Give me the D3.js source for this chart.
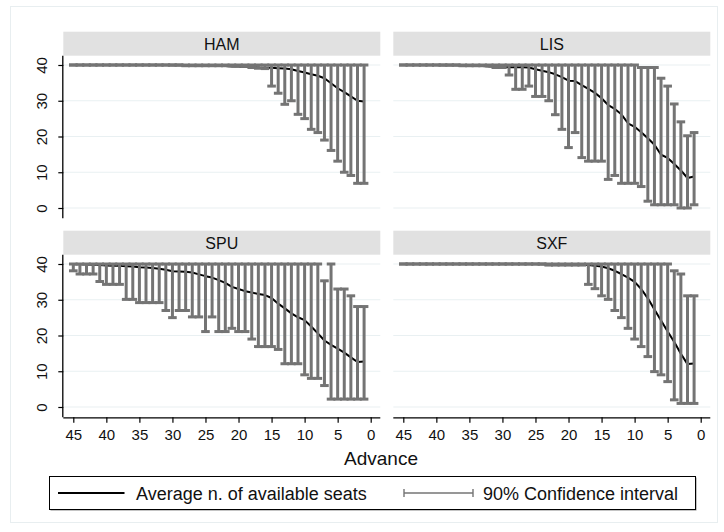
<!DOCTYPE html>
<html>
<head>
<meta charset="utf-8">
<script src="https://cdn.jsdelivr.net/npm/d3@7"></script>
<style>
  html, body { margin: 0; padding: 0; background: #ffffff; }
  svg { display: block; font-family: "Liberation Sans", Arial, sans-serif; }
</style>
</head>
<body>
<svg id="chart" width="724" height="532"></svg>
<script>
// Days in advance of departure (45 down to 1)
const advance = d3.range(45, 0, -1);

const airports = ["HAM", "LIS", "SPU", "SXF"];

// Average number of available seats, ordered by advance 45 -> 1
const hamMean = [40,40,40,40,40,40,40,40,40,40,40,40,40,40,40,
  39.95,39.9,39.9,39.85,39.8,39.8,39.75,39.7,39.7,39.6,39.6,39.5,39.4,39.3,39.25,
  39.2,39.1,39.0,38.8,38.3,37.9,37.4,37.0,36.3,34.9,33.5,32.4,31.2,30.0,29.8];
const hamLower = [40,40,40,40,40,40,40,40,40,40,40,40,40,40,40,40,40,
  39.8,39.8,39.8,39.8,39.8,39.8,39.8,39.8,39.8,39.6,39.3,39.1,39.0,
  34.1,32.1,29.0,30.0,26.2,25.0,22.0,21.1,19.0,16.1,13.1,10.0,9.1,6.9,6.9];
const hamUpper = [40,40,40,40,40,40,40,40,40,40,40,40,40,40,40,
  40,40,40,40,40,40,40,40,40,40,40,40,40,40,40,
  40,40,40,40,40,40,40,40,40,40,40,40,40,40,40];

const lisMean = [40,40,40,40,40,40,39.95,39.9,39.9,39.85,39.8,39.75,39.7,39.6,39.6,
  39.5,39.4,39.4,39.4,39.3,38.8,38.4,38.0,37.4,36.6,35.6,35.5,34.4,33.3,32.2,
  30.7,28.8,27.7,26.2,23.7,22.7,21.2,19.5,17.7,14.9,14.0,12.3,10.5,8.4,8.8];
const lisLower = [40,40,40,40,40,40,40,40,40,39.8,39.8,39.8,39.8,39.8,39.3,
  39.3,37.2,33.2,33.2,34.1,31.2,31.2,30.0,26.1,22.0,16.9,21.1,14.1,13.1,13.1,
  13.1,8.0,9.1,6.9,6.9,6.9,6.0,1.9,0.9,0.9,0.9,0.9,0.0,0.0,0.9];
const lisUpper = [40,40,40,40,40,40,40,40,40,40,40,40,40,40,40,
  40,40,40,40,40,40,40,40,40,40,40,40,40,40,40,
  40,40,40,40,40,40,39.3,39.3,39.3,36.3,34.1,29.1,24.1,20.2,21.1];

const spuMean = [39.9,39.9,39.85,39.8,39.7,39.6,39.5,39.5,39.4,39.3,39.1,39.0,38.9,38.7,38.4,
  38.0,37.9,37.8,37.6,37.1,36.6,36.2,35.5,34.7,33.6,33.0,32.4,32.0,31.6,31.3,
  30.5,28.9,27.6,26.2,25.1,24.3,22.5,20.6,18.6,17.4,16.3,15.2,13.9,12.6,12.7];
const spuLower = [38.1,37.2,37.2,37.2,35.1,34.3,34.3,34.3,30.1,30.1,29.2,29.2,29.2,29.2,27.0,
  25.0,27.0,27.0,25.2,25.2,21.1,25.2,21.1,21.1,22.0,21.1,21.1,19.0,16.9,16.9,
  16.9,16.1,12.1,12.1,12.1,9.0,8.0,8.0,6.0,2.2,2.2,2.2,2.2,2.2,2.2];
const spuUpper = [40,40,40,40,40,40,40,40,40,40,40,40,40,40,40,
  40,40,40,40,40,40,40,40,40,40,40,40,40,40,40,
  40,40,40,40,40,40,40,40,35.3,40,33.0,33.0,31.1,28.1,28.1];

const sxfMean = [40,40,40,40,40,40,40,40,40,40,40,40,40,40,40,
  40,40,40,40,40,40,39.95,39.95,39.9,39.9,39.9,39.85,39.8,39.7,39.5,
  39.3,38.8,38.1,37.2,36.2,35.0,33.0,30.4,27.3,24.2,21.1,18.2,14.9,12.0,12.2];
const sxfLower = [40,40,40,40,40,40,40,40,40,40,40,40,40,40,40,
  40,40,40,40,40,40,40,39.7,39.7,39.7,39.7,39.7,39.7,34.3,33.1,
  31.1,30.1,27.0,25.0,22.0,19.0,16.9,14.1,9.9,9.0,7.1,2.0,1.0,1.0,1.0];
const sxfUpper = [40,40,40,40,40,40,40,40,40,40,40,40,40,40,40,
  40,40,40,40,40,40,40,40,40,40,40,40,40,40,40,
  40,40,40,40,40,40,40,40,40,40,40,38.1,37.2,31.1,31.1];

const xTicks = [45, 40, 35, 30, 25, 20, 15, 10, 5, 0];
const yTicks = [0, 10, 20, 30, 40];

const seriesByAirport = {
  HAM: { mean: hamMean, lower: hamLower, upper: hamUpper },
  LIS: { mean: lisMean, lower: lisLower, upper: lisUpper },
  SPU: { mean: spuMean, lower: spuLower, upper: spuUpper },
  SXF: { mean: sxfMean, lower: sxfLower, upper: sxfUpper }
};

const svg = d3.select("#chart");
const ciColor = "#747474";
const gridColor = "#e9f0f2";

// faint graph-region outline
svg.append("rect")
  .attr("x", 10.5).attr("y", 6.5).attr("width", 707).attr("height", 516)
  .attr("fill", "none").attr("stroke", "#e8eef0");

const colLeft = [63.3, 393.3];
const panelW = 317;
const rowTop = [31.7, 230.7];
const stripH = 24;

airports.forEach((code, i) => {
  const col = i % 2, row = Math.floor(i / 2);
  const x0 = colLeft[col];
  const top = rowTop[row];
  const plotTop = top + stripH;
  const y40 = plotTop + 9.3, y0 = y40 + 143;
  const axisY = y0 + 10.3;

  const x = d3.scaleLinear().domain([45, 0]).range([x0 + 10, x0 + 307.4]);
  const y = d3.scaleLinear().domain([0, 40]).range([y0, y40]);

  const g = svg.append("g");

  // strip with the airport code
  g.append("rect")
    .attr("x", x0).attr("y", top).attr("width", panelW).attr("height", stripH)
    .attr("fill", "#e1e1e1");
  g.append("text")
    .attr("x", x0 + panelW / 2).attr("y", top + stripH / 2 + 5.8)
    .attr("text-anchor", "middle").attr("font-size", 16).attr("fill", "#111")
    .text(code);

  // horizontal grid lines
  g.selectAll("line.grid").data(yTicks).join("line")
    .attr("class", "grid")
    .attr("x1", x0).attr("x2", x0 + panelW)
    .attr("y1", d => y(d)).attr("y2", d => y(d))
    .attr("stroke", gridColor).attr("stroke-width", 1.2);

  const s = seriesByAirport[code];
  const pts = advance.map((a, k) => ({ a, m: s.mean[k], lo: s.lower[k], hi: s.upper[k] }));

  // average line (drawn beneath the intervals)
  g.append("path")
    .datum(pts)
    .attr("fill", "none").attr("stroke", "#000").attr("stroke-width", 2)
    .attr("stroke-linejoin", "round")
    .attr("d", d3.line().x(d => x(d.a)).y(d => y(d.m)));

  // 90% confidence intervals as capped ranges
  const capHalf = 4.3;
  const ci = g.append("g").attr("stroke", ciColor).attr("stroke-width", 3);
  ci.selectAll("line.rng").data(pts).join("line")
    .attr("x1", d => x(d.a)).attr("x2", d => x(d.a))
    .attr("y1", d => y(d.lo)).attr("y2", d => y(d.hi));
  ci.selectAll("line.capLo").data(pts).join("line")
    .attr("x1", d => x(d.a) - capHalf).attr("x2", d => x(d.a) + capHalf)
    .attr("y1", d => y(d.lo)).attr("y2", d => y(d.lo));
  ci.selectAll("line.capHi").data(pts).join("line")
    .attr("x1", d => x(d.a) - capHalf).attr("x2", d => x(d.a) + capHalf)
    .attr("y1", d => y(d.hi)).attr("y2", d => y(d.hi));

  // y axis on the left column
  if (col === 0) {
    const ya = d3.axisLeft(y).tickValues(yTicks).tickSize(5).tickPadding(0).tickFormat(d3.format("d"));
    const ag = g.append("g").attr("transform", `translate(${x0},0)`).call(ya);
    ag.select(".domain").attr("d", `M-0.5,${plotTop}V${axisY}`).attr("stroke", "#000").attr("stroke-width", 1.3);
    ag.selectAll(".tick line").attr("stroke", "#000").attr("stroke-width", 1.2);
    ag.selectAll(".tick text")
      .attr("font-size", 15).attr("font-family", "Liberation Sans, Arial, sans-serif")
      .attr("fill", "#111").attr("text-anchor", "middle")
      .attr("x", 0).attr("dy", 0)
      .attr("transform", "translate(-21.6,0) rotate(-90) translate(0,5.3)");
  }

  // x axis on the bottom row
  if (row === 1) {
    const xa = d3.axisBottom(x).tickValues(xTicks).tickSize(5.5).tickPadding(7).tickFormat(d3.format("d"));
    const ag = g.append("g").attr("transform", `translate(0,${axisY})`).call(xa);
    ag.select(".domain").attr("d", `M${x0},0.5H${x0 + panelW}`).attr("stroke", "#000").attr("stroke-width", 1.3);
    ag.selectAll(".tick line").attr("stroke", "#000").attr("stroke-width", 1.2);
    ag.selectAll(".tick text")
      .attr("font-size", 15).attr("font-family", "Liberation Sans, Arial, sans-serif")
      .attr("fill", "#111");
  }
});

// shared x-axis title
svg.append("text")
  .attr("x", 381).attr("y", 465)
  .attr("text-anchor", "middle").attr("font-size", 19).attr("fill", "#111")
  .text("Advance");

// legend
const lg = svg.append("g");
lg.append("rect").attr("x", 50.5).attr("y", 477.5).attr("width", 646).attr("height", 33)
  .attr("fill", "#8a8a8a");
lg.append("rect").attr("x", 49.5).attr("y", 476.5).attr("width", 646).attr("height", 33)
  .attr("fill", "#fff").attr("stroke", "#000").attr("stroke-width", 1);
lg.append("line").attr("x1", 58).attr("x2", 124.5).attr("y1", 493).attr("y2", 493)
  .attr("stroke", "#000").attr("stroke-width", 2);
lg.append("text").attr("x", 136).attr("y", 499.5).attr("font-size", 18).attr("fill", "#111")
  .text("Average n. of available seats");
lg.append("line").attr("x1", 404).attr("x2", 473).attr("y1", 493).attr("y2", 493)
  .attr("stroke", ciColor).attr("stroke-width", 1.6);
[404, 473].forEach(px => {
  lg.append("line").attr("x1", px).attr("x2", px).attr("y1", 489).attr("y2", 497)
    .attr("stroke", ciColor).attr("stroke-width", 1.4);
});
lg.append("text").attr("x", 483).attr("y", 499.5).attr("font-size", 18).attr("fill", "#111")
  .text("90% Confidence interval");
</script>
</body>
</html>
